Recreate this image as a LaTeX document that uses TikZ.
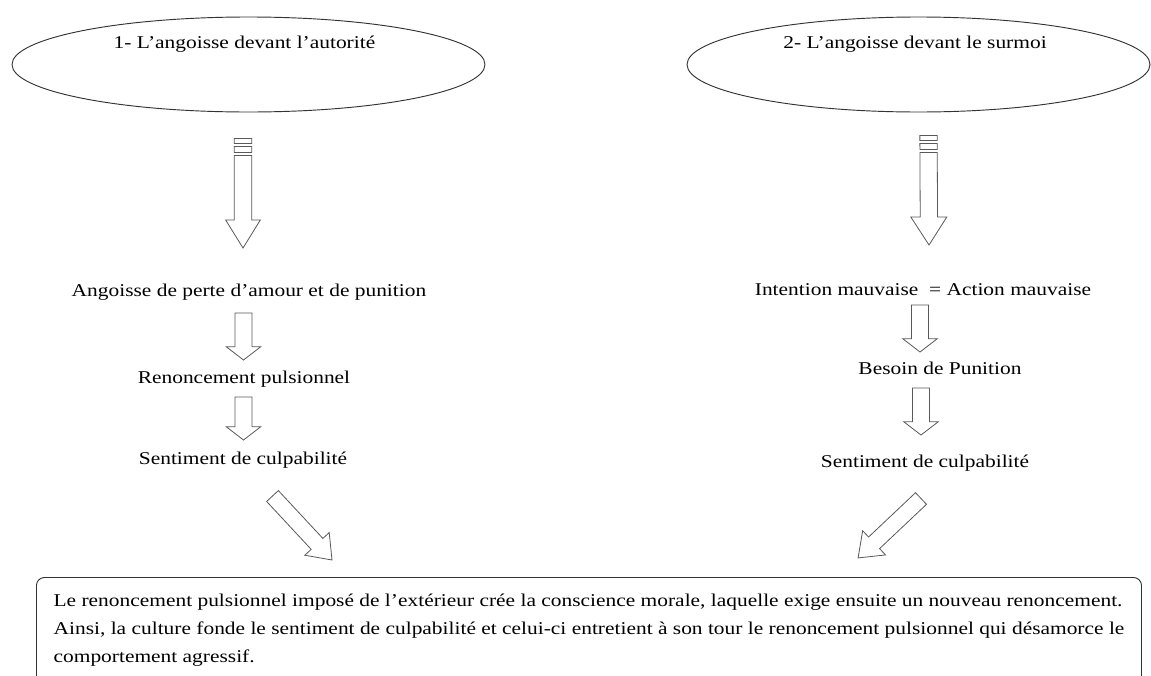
\documentclass[tikz,border=0pt]{standalone}
\usepackage{fontspec}
\setmainfont{Liberation Serif}[FakeStretch=1.19]
\usetikzlibrary{shapes.geometric, calc, positioning}

\tikzset{
  oval/.style={ellipse, draw=black!80, line width=0.7pt, minimum width=354.75pt, minimum height=71.25pt, inner sep=0pt},
  caption/.style={anchor=base, inner sep=0pt, font=\fontsize{13.5}{21}\selectfont},
  hollow/.style={draw=black!65, line width=0.6pt, fill=white, line join=miter},
  summary/.style={draw=black!80, line width=0.7pt, rounded corners=6pt, align=left, anchor=north west,
    minimum width=828.75pt, minimum height=79.5pt, inner sep=0pt, font=\fontsize{13.5}{21}\selectfont}
}

% hollow block arrow: from, tip, shaft half width, head half width, head length
\newcommand{\hollowarrow}[5]{%
  \draw[hollow] let \p1=#1, \p2=#2,
    \n1={veclen(\x2-\x1,\y2-\y1)}, \n2={atan2(\y2-\y1,\x2-\x1)} in
    [shift={(\p1)}, rotate=\n2]
    (0pt,-#3) -- ({\n1-#5},-#3) -- ({\n1-#5},-#4) -- ({\n1*1pt},0pt)
    -- ({\n1-#5},#4) -- ({\n1-#5},#3) -- (0pt,#3) -- cycle;}
% same, with two bars at the tail
\newcommand{\stripedarrow}[5]{%
  \draw[hollow] let \p1=#1, \p2=#2,
    \n1={veclen(\x2-\x1,\y2-\y1)}, \n2={atan2(\y2-\y1,\x2-\x1)} in
    [shift={(\p1)}, rotate=\n2]
    (0pt,-#3) rectangle (3.75pt,#3)
    (6pt,-#3) rectangle (10.5pt,#3)
    (12.75pt,-#3) -- ({\n1-#5},-#3) -- ({\n1-#5},-#4) -- ({\n1*1pt},0pt)
    -- ({\n1-#5},#4) -- ({\n1-#5},#3) -- (12.75pt,#3) -- cycle;}

\begin{document}
\begin{tikzpicture}[x=0.75pt, y=0.75pt]
  \useasboundingbox (0,0) rectangle (1151,-675);
  \clip (0,0) rectangle (1151,-675);

  % the two ovals
  \node[oval] (e1) at (248.5,-64.5) {};
  \node[oval, minimum width=347.25pt] (e2) at (918.5,-64.5) {};
  \node[caption] (t1) at (244.5,-48) {1- L’angoisse devant l’autorité};
  \node[caption] (t2) at (915,-48) {2- L’angoisse devant le surmoi};

  % left column
  \node[caption] (n1) at (249,-296) {Angoisse de perte d’amour et de punition};
  \node[caption] (n2) at (244,-383) {Renoncement pulsionnel};
  \node[caption] (n3) at (243,-464) {Sentiment de culpabilité};

  % right column
  \node[caption] (m1) at (923,-295) {Intention mauvaise \ = Action mauvaise};
  \node[caption] (m2) at (940,-374) {Besoin de Punition};
  \node[caption] (m3) at (925,-467) {Sentiment de culpabilité};

  % bottom box
  \node[summary] (box) at (36,-577) {Le renoncement pulsionnel imposé de l’extérieur crée la conscience morale, laquelle exige ensuite un nouveau renoncement.\\
    Ainsi, la culture fonde le sentiment de culpabilité et celui-ci entretient à son tour le renoncement pulsionnel qui désamorce le\\
    comportement agressif.};

  % arrows
  \stripedarrow{($(e1.south)+(-5.5,-26)$)}{($(n1.base)+(-6,48)$)}{6.5pt}{13pt}{21pt}
  \stripedarrow{($(e2.south)+(10,-23)$)}{($(m1.base)+(6,50)$)}{6.5pt}{13.5pt}{21pt}
  \hollowarrow{($(n1.base)+(-5.5,-17)$)}{($(n2.base)+(-0.5,23)$)}{6.4pt}{13pt}{10pt}
  \hollowarrow{($(n2.base)+(-0.5,-14)$)}{($(n3.base)+(0.5,24)$)}{6.4pt}{13pt}{10pt}
  \hollowarrow{($(m1.base)+(-3,-10)$)}{($(m2.base)+(-20,22)$)}{6.4pt}{13pt}{10pt}
  \hollowarrow{($(m2.base)+(-19,-14)$)}{($(m3.base)+(-4,32)$)}{6.4pt}{13pt}{10pt}
  \hollowarrow{($(n3.base)+(29.5,-32)$)}{($(box.north west)+(296,17)$)}{6pt}{12.5pt}{16.5pt}
  \hollowarrow{($(m3.base)+(-4,-31.5)$)}{($(box.north west)+(822,19)$)}{6pt}{12.5pt}{16.5pt}
\end{tikzpicture}
\end{document}
